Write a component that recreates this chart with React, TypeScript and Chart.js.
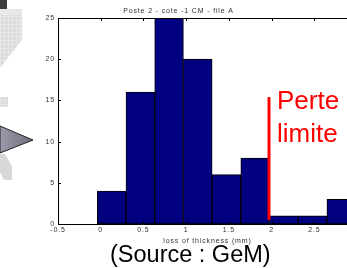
import React, { useEffect, useRef } from "react";
import { Chart, registerables } from "chart.js";

Chart.register(...registerables);

// ---- data ----
const binCenters = [0.128, 0.464, 0.8, 1.136, 1.472, 1.808, 2.144, 2.48, 2.816];
const counts = [4, 16, 25, 20, 6, 8, 1, 1, 3];
const xTicks = [-0.5, 0, 0.5, 1, 1.5, 2, 2.5, 3];
const xTickLabels = ["-0.5", "0", "0.5", "1", "1.5", "2", "2.5", "3"];
const yTicks = [0, 5, 10, 15, 20, 25];
const yTickLabels = ["0", "5", "10", "15", "20", "25"];
const limitX = [1.97, 1.97];
const limitY = [0.5, 15.4];
const titleText = "Poste 2 - cote -1 CM - file A";
const xAxisTitle = "loss of thickness (mm)";
const annotationLines = ["Perte", "limite"];
const sourceText = "(Source : GeM)";

const FONT = '"Liberation Sans", Arial, Helvetica, sans-serif';

const matlabPlugin = {
  id: "matlabStyle",
  beforeDraw(chart: any) {
    chart.ctx.letterSpacing = "0.85px";
  },
  afterDraw(chart: any) {
    const ctx = chart.ctx;
    ctx.letterSpacing = "0px";
    const { left, right, top, bottom } = chart.chartArea;
    const xs = chart.scales.x;
    const ys = chart.scales.y;
    ctx.save();
    ctx.strokeStyle = "#000";
    ctx.lineWidth = 1;
    ctx.beginPath();
    ctx.rect(Math.round(left) + 0.5, Math.round(top) + 0.5, Math.round(right - left), Math.round(bottom - top));
    xTicks.forEach((v) => {
      const px = Math.round(xs.getPixelForValue(v)) + 0.5;
      ctx.moveTo(px, top);
      ctx.lineTo(px, top + 3);
      ctx.moveTo(px, bottom);
      ctx.lineTo(px, bottom - 3);
    });
    yTicks.forEach((v) => {
      const py = Math.round(ys.getPixelForValue(v)) + 0.5;
      ctx.moveTo(left, py);
      ctx.lineTo(left + 3, py);
      ctx.moveTo(right, py);
      ctx.lineTo(right - 3, py);
    });
    ctx.stroke();
    ctx.restore();
  },
};

function HistChart() {
  const ref = useRef<HTMLCanvasElement | null>(null);
  useEffect(() => {
    if (!ref.current) return;
    const chart = new Chart(ref.current, {
      type: "bar",
      data: {
        datasets: [
          {
            type: "bar",
            data: binCenters.map((x, i) => ({ x, y: counts[i] })),
            backgroundColor: "#000080",
            borderColor: "#000000",
            borderWidth: 1,
            borderSkipped: false,
            barPercentage: 1,
            categoryPercentage: 1,
            order: 2,
          } as any,
          {
            type: "line",
            data: limitX.map((x, i) => ({ x, y: limitY[i] })),
            borderColor: "#ff0000",
            borderWidth: 3,
            pointRadius: 0,
            borderCapStyle: "butt",
            order: 1,
          } as any,
        ],
      },
      options: {
        responsive: false,
        animation: false,
        devicePixelRatio: 1,
        layout: { padding: { left: 0, right: 13, top: 0, bottom: 0 } },
        plugins: {
          legend: { display: false },
          tooltip: { enabled: false },
          title: {
            display: true,
            text: titleText,
            color: "#333",
            font: { family: FONT, size: 7, weight: "normal" },
            padding: { top: 7, bottom: 2.6 },
          },
        },
        scales: {
          x: {
            type: "linear",
            min: -0.5,
            max: 3,
            offset: false,
            grid: { display: false, drawTicks: false, offset: false },
            border: { display: false },
            afterBuildTicks: (s: any) => {
              s.ticks = xTicks.map((v) => ({ value: v }));
            },
            ticks: {
              padding: 2,
              color: "#333",
              font: { family: FONT, size: 7 },
              maxRotation: 0,
              autoSkip: false,
              callback: (_v: any, i: number) => xTickLabels[i],
            },
            title: {
              display: true,
              text: xAxisTitle,
              color: "#333",
              font: { family: FONT, size: 7 },
              padding: { top: 0, bottom: 22.8 },
            },
            afterFit: (s: any) => {
              s.height = 44;
            },
          },
          y: {
            min: 0,
            max: 25,
            grid: { display: false, drawTicks: false },
            border: { display: false },
            afterBuildTicks: (s: any) => {
              s.ticks = yTicks.map((v) => ({ value: v }));
            },
            ticks: {
              padding: 3,
              color: "#333",
              font: { family: FONT, size: 7 },
              callback: (_v: any, i: number) => yTickLabels[i],
            },
            afterFit: (s: any) => {
              s.width = 58;
            },
          },
        },
      } as any,
      plugins: [matlabPlugin],
    });
    return () => chart.destroy();
  }, []);
  return (
    <canvas
      ref={ref}
      width={370}
      height={268}
      style={{ position: "absolute", left: 0, top: 0, width: 370, height: 268 }}
    />
  );
}

function Decoration() {
  return (
    <svg width={60} height={268} style={{ position: "absolute", left: 0, top: 0 }}>
      <defs>
        <linearGradient id="tri" x1="0" y1="0" x2="1" y2="0">
          <stop offset="0" stopColor="#9a9aaa" />
          <stop offset="1" stopColor="#6e6e7e" />
        </linearGradient>
        <pattern id="chk" width="4" height="4" patternUnits="userSpaceOnUse">
          <rect width="4" height="4" fill="#dddddd" />
          <path d="M0 0H4M0 0V4" stroke="#f0f0f0" strokeWidth="0.8" />
        </pattern>
      </defs>
      <rect x={0} y={0} width={7} height={9} fill="#3e3e3e" />
      <rect x={0} y={9} width={22} height={6} fill="#e8e8e8" />
      <polygon points="0,15 22,15 22,40 0,68" fill="url(#chk)" />
      <rect x={0} y={97} width={8} height={10} fill="url(#chk)" />
      <polygon points="0,154 5,154 12,166 12,180 4,180 0,172" fill="#d8d8d8" />
      <polygon points="0,126 33,140 0,153" fill="url(#tri)" stroke="#222" strokeWidth={1} />
    </svg>
  );
}

export default function App() {
  return (
    <div
      style={{
        position: "absolute",
        left: 0,
        top: 0,
        width: 347,
        height: 268,
        overflow: "hidden",
        background: "#fff",
      }}
    >
      <HistChart />
      <Decoration />
      <div
        style={{
          position: "absolute",
          left: 277,
          top: 83.5,
          color: "#ff0000",
          fontFamily: FONT,
          fontSize: 26,
          lineHeight: "33px",
          whiteSpace: "nowrap",
        }}
      >
        {annotationLines.map((t) => (
          <div key={t}>{t}</div>
        ))}
      </div>
      <div
        style={{
          position: "absolute",
          left: 110,
          top: 243,
          color: "#000",
          fontFamily: FONT,
          fontSize: 23.5,
          lineHeight: 1,
          whiteSpace: "nowrap",
        }}
      >
        {sourceText}
      </div>
    </div>
  );
}
